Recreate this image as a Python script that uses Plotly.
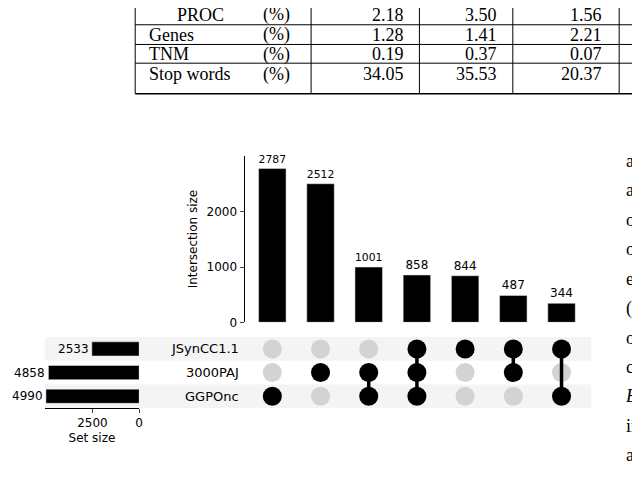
import plotly.graph_objects as go

W, H = 640, 478
sets = ["GGPOnc", "3000PAJ", "JSynCC1.1"]          # row 0 bottom
set_sizes = [4990, 4858, 2533]
inter_sizes = [2787, 2512, 1001, 858, 844, 487, 344]
# membership per intersection: (GGPOnc, 3000PAJ, JSynCC1.1)
members = [(1,0,0),(0,1,0),(1,1,0),(1,1,1),(0,0,1),(0,1,1),(1,0,1)]
y_ticks = [0, 1000, 2000]
size_ticks = [2500, 0]

table_rows = [["PROC", "(%)", "2.18", "3.50", "1.56"],
              ["Genes", "(%)", "1.28", "1.41", "2.21"],
              ["TNM", "(%)", "0.19", "0.37", "0.07"],
              ["Stop words", "(%)", "34.05", "35.53", "20.37"]]
side_words = ["as", "an", "o", "o", "en", "(a", "o", "ca", "B", "in", "av", "o"]

def px(x): return x / W
def py(y): return 1 - y / H

fig = go.Figure()
n = len(inter_sizes)
idx = list(range(n))

fig.add_trace(go.Bar(x=idx, y=inter_sizes, marker_color="black", width=0.57,
                     text=[str(v) for v in inter_sizes], textposition="outside",
                     textfont=dict(size=12, color="black", family="DejaVu Sans"),
                     cliponaxis=False, xaxis="x", yaxis="y", showlegend=False))

for j, m in enumerate(members):
    for r in range(3):
        fig.add_trace(go.Scatter(x=[j], y=[r], mode="markers",
                                 marker=dict(size=19, color="black" if m[r] else "#d3d3d3"),
                                 xaxis="x2", yaxis="y2", showlegend=False, hoverinfo="skip"))
    rows_in = [r for r in range(3) if m[r]]
    if len(rows_in) > 1:
        fig.add_trace(go.Scatter(x=[j, j], y=[min(rows_in), max(rows_in)], mode="lines",
                                 line=dict(color="black", width=3.5),
                                 xaxis="x2", yaxis="y2", showlegend=False, hoverinfo="skip"))

fig.add_trace(go.Bar(x=set_sizes, y=[0, 1, 2], orientation="h", marker_color="black",
                     width=0.6, xaxis="x3", yaxis="y3", showlegend=False))

xr = [-0.577, n - 0.5]
fig.update_layout(
    width=W, height=H, margin=dict(l=0, r=0, t=0, b=0),
    plot_bgcolor="rgba(0,0,0,0)", paper_bgcolor="white",
    font=dict(family="DejaVu Sans", size=12, color="black"),
    xaxis=dict(domain=[px(238), px(581.25)], range=xr, visible=False),
    yaxis=dict(domain=[py(319), py(150)], range=[0, 3018], anchor="x",
               tickvals=y_ticks, ticks="outside", ticklen=4, showgrid=False,
               showline=True, linecolor="black", linewidth=1, zeroline=False,
               tickfont=dict(size=12),
               title=dict(text="Intersection size", font=dict(size=12), standoff=6)),
    xaxis2=dict(domain=[px(238), px(581.25)], range=xr, visible=False),
    yaxis2=dict(domain=[py(406), py(334)], range=[-0.5, 2.5], visible=False, anchor="x2"),
    xaxis3=dict(domain=[px(37), px(132)], range=[5053, 0], tickvals=size_ticks,
                ticks="outside", ticklen=4, showgrid=False, showline=True,
                linecolor="black", zeroline=False, anchor="y3", tickfont=dict(size=12),
                title=dict(text="Set size", font=dict(size=12), standoff=4)),
    yaxis3=dict(domain=[py(406), py(334)], range=[-0.5, 2.5], visible=False, anchor="x3"),
)

shapes = []
for r in (0, 2):
    yc = [394, 370, 346][r]
    shapes.append(dict(type="rect", xref="paper", yref="paper", x0=px(37), x1=px(587),
                       y0=py(yc + 12), y1=py(yc - 12), fillcolor="#f4f4f4",
                       line=dict(width=0), layer="below"))
for yl in [17, 37, 56]:
    shapes.append(dict(type="line", xref="paper", yref="paper", x0=px(128), x1=px(640),
                       y0=py(yl), y1=py(yl), line=dict(color="black", width=1)))
shapes.append(dict(type="line", xref="paper", yref="paper", x0=px(128), x1=px(640),
                   y0=py(87), y1=py(87), line=dict(color="black", width=1.5)))
for xl in [128, 305, 414, 508, 615]:
    shapes.append(dict(type="line", xref="paper", yref="paper", x0=px(xl), x1=px(xl),
                       y0=py(0), y1=py(87), line=dict(color="black", width=1)))
fig.update_layout(shapes=shapes)

ann = []
for r, s in enumerate(sets):
    yc = [394, 370, 346][r]
    ann.append(dict(text=s, xref="paper", yref="paper", x=px(234), y=py(yc),
                    xanchor="right", yanchor="middle", showarrow=False, font=dict(size=13)))
    ann.append(dict(text=str(set_sizes[r]), xref="x3", yref="y3", x=set_sizes[r], y=r,
                    xanchor="right", yanchor="middle", showarrow=False, font=dict(size=12), xshift=-1))
serif = dict(family="Liberation Serif", size=18, color="black")
row_y = [7, 27, 47, 67]
for i, row in enumerate(table_rows):
    x_label = 168 if i == 0 else 140
    ann.append(dict(text=row[0], xref="paper", yref="paper", x=px(x_label), y=py(row_y[i]),
                    xanchor="left", yanchor="middle", showarrow=False, font=serif))
    ann.append(dict(text=row[1], xref="paper", yref="paper", x=px(270), y=py(row_y[i]),
                    xanchor="center", yanchor="middle", showarrow=False, font=serif))
    for k, xc in enumerate([400, 494, 600]):
        ann.append(dict(text=row[2 + k], xref="paper", yref="paper", x=px(xc), y=py(row_y[i]),
                        xanchor="right", yanchor="middle", showarrow=False, font=serif))
for k, w in enumerate(side_words):
    ann.append(dict(text=("<i>%s</i>" % w) if w == "B" else w, xref="paper", yref="paper",
                    x=px(620), y=py(155 + 29.9 * k), xanchor="left", yanchor="middle",
                    showarrow=False, font=serif))
fig.update_layout(annotations=ann)

fig.write_html("out.html")
